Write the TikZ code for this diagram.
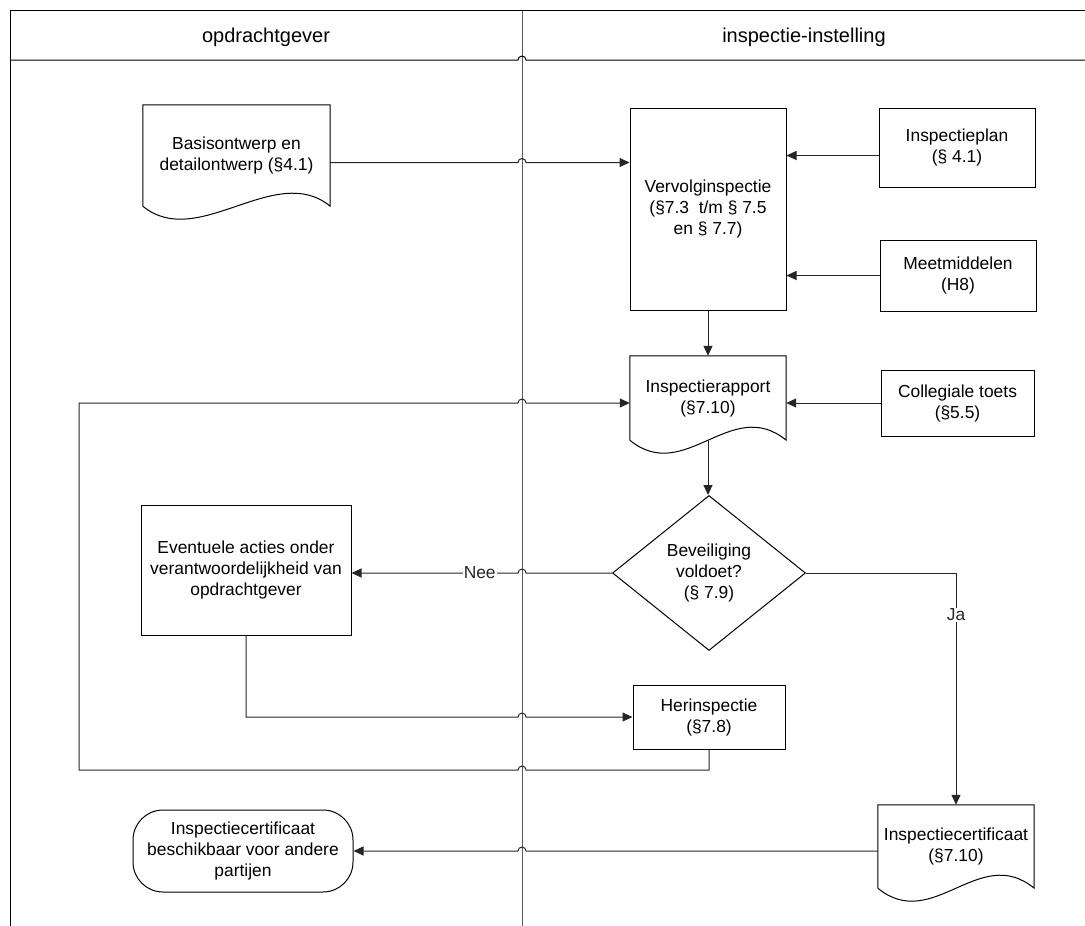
\documentclass[tikz,border=0pt]{standalone}
\usepackage{fontspec}
\setmainfont{Liberation Sans}
\usetikzlibrary{arrows.meta,shapes.geometric}

% document shape: body plus wavy bottom
\newcommand{\docoutline}[1]{%
  \draw[shapeline] (#1.south west) -- (#1.north west) -- (#1.north east) -- (#1.south east)
    .. controls +(-55,-45) and +(55,45) .. (#1.south west);}
% line jumps over the lane border
\newcommand{\hopr}[1]{-- (518,#1) arc[start angle=180,end angle=360,radius=4]}
\newcommand{\hopl}[1]{-- (526,#1) arc[start angle=0,end angle=-180,radius=4]}

\begin{document}
\begin{tikzpicture}[x=1pt,y=-1pt,
    every node/.style={font=\fontsize{17.4}{21}\selectfont, align=center},
    shapeline/.style={line width=1pt, black},
    box/.style={draw, line width=1pt, inner sep=2pt},
    doc/.style={inner sep=2pt},
    hdr/.style={font=\fontsize{20}{24}\selectfont},
    frame/.style={line width=1pt, black},
    lane/.style={line width=1pt, black!65},
    arr/.style={-{Triangle[length=10pt,width=9pt]}, line width=1pt, black!85},
    lbl/.style={fill=white, inner sep=1pt}]
  \useasboundingbox (0,0) rectangle (1085,926);

  % zwembanen
  \draw[lane] (522,10) -- (522,926);
  \draw[frame] (10,926) -- (10,10) -- (1085,10);
  \draw[frame] (10,60) \hopr{60} -- (1085,60);
  \node[hdr] (lhdr) at (266,37) {opdrachtgever};
  \node[hdr] (rhdr) at (804,37) {inspectie-instelling};

  % stappen
  \node[doc, minimum width=187pt, minimum height=101pt] (basis) at (236.5,155.5) {Basisontwerp en\\detailontwerp (§4.1)};
  \node[box, minimum width=156pt, minimum height=202pt] (vervolg) at (708,209) {Vervolginspectie\\(§7.3~~t/m § 7.5\\en § 7.7)};
  \node[box, minimum width=156pt, minimum height=79pt] (plan) at (957,147.5) {Inspectieplan\\(§ 4.1)};
  \node[box, minimum width=156pt, minimum height=71pt] (meet) at (958,275.5) {Meetmiddelen\\(H8)};
  \node[doc, minimum width=156pt, minimum height=84pt] (rapport) at (708,398) {Inspectierapport\\(§7.10)};
  \node[box, minimum width=153pt, minimum height=66pt] (coll) at (957.5,403) {Collegiale toets\\(§5.5)};
  \node[draw, diamond, line width=1pt, minimum width=193pt, minimum height=155pt, inner sep=0pt] (beveil) at (709,573) {Beveiliging\\voldoet?\\(§ 7.9)};
  \node[box, minimum width=210pt, minimum height=130pt] (acties) at (246,570) {Eventuele acties onder\\verantwoordelijkheid van\\opdrachtgever};
  \node[box, minimum width=152pt, minimum height=64pt] (herin) at (709,717) {Herinspectie\\(§7.8)};
  \node[doc, minimum width=156pt, minimum height=83pt] (cert) at (956,846.5) {Inspectiecertificaat\\(§7.10)};
  \node[box, rounded corners=30pt, minimum width=220pt, minimum height=82pt] (term) at (243,851) {Inspectiecertificaat\\beschikbaar voor andere\\partijen};
  \docoutline{basis}
  \docoutline{rapport}
  \docoutline{cert}

  % verbindingen
  \draw[arr] ([yshift=-7pt]basis.east) \hopr{162.5} -- (vervolg.west |- 0,162.5);
  \draw[arr] ([yshift=-8pt]plan.west) -- ([yshift=-8pt]plan.west -| vervolg.east);
  \draw[arr] (meet) -- (meet -| vervolg.east);
  \draw[arr] (vervolg) -- (rapport);
  \draw[arr] (coll) -- (coll -| rapport.east);
  \draw[arr] (rapport.south) -- (rapport.south |- beveil.north);
  \draw[arr] (beveil.west) \hopl{573} -- (acties.east |- beveil.west) node[lbl, pos=0.23] (nee) {Nee};
  \draw[arr] (beveil.east) -| (cert.north) node[lbl, pos=0.59] (ja) {Ja};
  \draw[arr] (acties.south) -- (acties.south |- herin) \hopr{717} -- (herin.west);
  \coordinate (loop) at (79,770);
  \draw[arr] (herin.south) -- (herin.south |- loop) \hopl{770} -- (loop) -- (loop |- coll) \hopr{403} -- (coll -| rapport.west);
  \draw[arr] (cert.west |- term) \hopl{851} -- (term.east);
\end{tikzpicture}
\end{document}
